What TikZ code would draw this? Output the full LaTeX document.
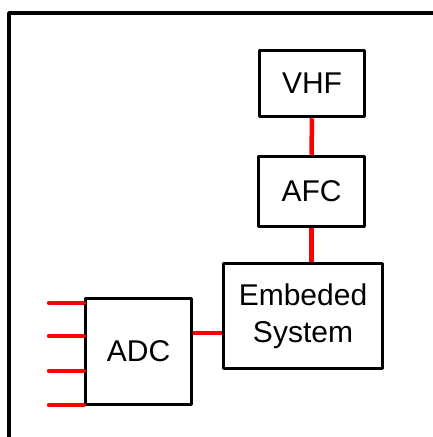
\documentclass[tikz,border=0pt]{standalone}
\usepackage{fontspec}
\setmainfont{Liberation Sans}
\usetikzlibrary{positioning, calc}
\definecolor{Wire}{HTML}{FF0000}
\tikzset{
    block/.style={rectangle, draw=black, line width=3.5pt, line join=round, fill=white, align=center, inner sep=0pt, font=\fontsize{30}{37}\selectfont},
    wire/.style={draw=Wire, line width=4.5pt},
    frame/.style={draw=black, line width=3.5pt, line join=round},
}
\begin{document}
\begin{tikzpicture}[x=1pt, y=-1pt]
        \clip (0,0) rectangle (433,437);
        \fill[white] (0,0) rectangle (433,437);
        \draw[frame] (9,450) -- (9,13) -- (450,13);

        \node[block, minimum width=105pt, minimum height=66pt] (vhf) at (312,83.5) {VHF};
        \node[block, minimum width=106pt, minimum height=70pt] (afc) at (311.5,191.5) {AFC};
        \node[block, minimum width=159pt, minimum height=105pt] (emb) at (303,316) {Embeded\\System};
        \node[block, minimum width=106pt, minimum height=106pt] (adc) at (138.5,351.5) {ADC};

        \draw[wire] (vhf.south) -- (afc.north);
        \draw[wire] (afc.south) -- (afc.south |- emb.north);
        \draw[wire] ([yshift=18.5pt]adc.east) -- ([yshift=18.5pt]adc.east -| emb.west);

        % analog inputs
        \foreach \y [count=\i] in {303,336,371,405} {
            \coordinate (in\i) at (49,\y);
            \draw[wire, line cap=round] (in\i) -- (in\i -| adc.west);
        }
    \end{tikzpicture}
\end{document}
